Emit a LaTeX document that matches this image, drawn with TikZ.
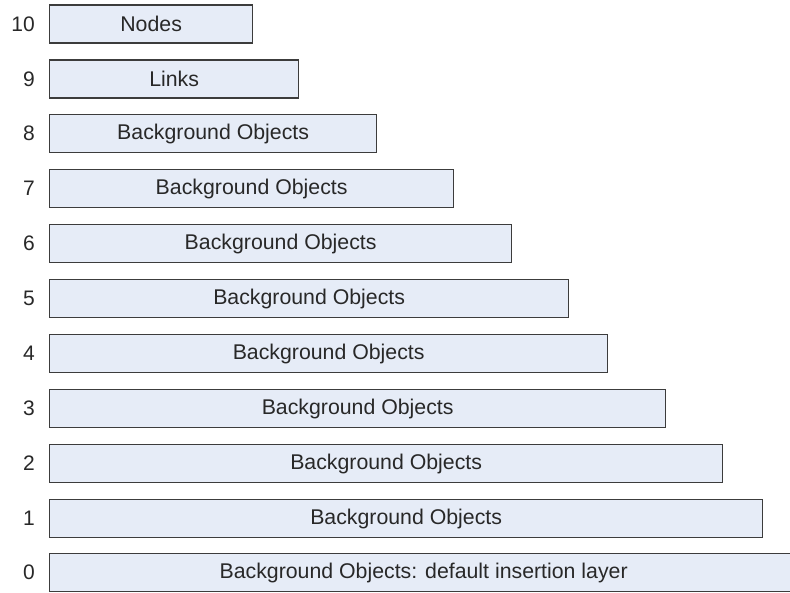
\documentclass[tikz,border=0pt]{standalone}
\usepackage{fontspec}
\setmainfont{Liberation Sans}
\definecolor{boxfill}{RGB}{230,236,247}
\definecolor{boxline}{RGB}{60,60,60}
\definecolor{txt}{RGB}{40,40,40}
\begin{document}
\begin{tikzpicture}[x=1pt,y=-1pt,
  layerbox/.style={draw=boxline,fill=boxfill,line width=1.3pt,rectangle,anchor=west,
    minimum height=38pt,inner sep=0pt,text=txt,font=\fontsize{21.3}{24}\selectfont},
  layernum/.style={anchor=east,inner sep=0pt,text=txt,font=\fontsize{21}{24}\selectfont}]
\useasboundingbox (0,0) rectangle (790,592);
\clip (0,0) rectangle (790,592);
\fill[white] (0,0) rectangle (790,592);
\node[layerbox,minimum width=203pt] (b10) at (49,24) {Nodes};
\node[layerbox,minimum width=249pt] (b9) at (49,79) {Links};
\node[layerbox,minimum width=327pt] (b8) at (49,133.5) {Background Objects};
\node[layerbox,minimum width=404pt] (b7) at (49,188.5) {Background Objects};
\node[layerbox,minimum width=462pt] (b6) at (49,243.5) {Background Objects};
\node[layerbox,minimum width=519pt] (b5) at (49,298.5) {Background Objects};
\node[layerbox,minimum width=558pt] (b4) at (49,353.5) {Background Objects};
\node[layerbox,minimum width=616pt] (b3) at (49,408.5) {Background Objects};
\node[layerbox,minimum width=673pt] (b2) at (49,463.5) {Background Objects};
\node[layerbox,minimum width=713pt] (b1) at (49,518.5) {Background Objects};
\node[layerbox,minimum width=748pt] (b0) at (49,572.5) {Background Objects: default insertion layer};
\node[layernum] (n10) at (35,24) {10};
\node[layernum] (n9) at (35,79) {9};
\node[layernum] (n8) at (35,133.5) {8};
\node[layernum] (n7) at (35,188.5) {7};
\node[layernum] (n6) at (35,243.5) {6};
\node[layernum] (n5) at (35,298.5) {5};
\node[layernum] (n4) at (35,353.5) {4};
\node[layernum] (n3) at (35,408.5) {3};
\node[layernum] (n2) at (35,463.5) {2};
\node[layernum] (n1) at (35,518.5) {1};
\node[layernum] (n0) at (35,572.5) {0};
\end{tikzpicture}
\end{document}
